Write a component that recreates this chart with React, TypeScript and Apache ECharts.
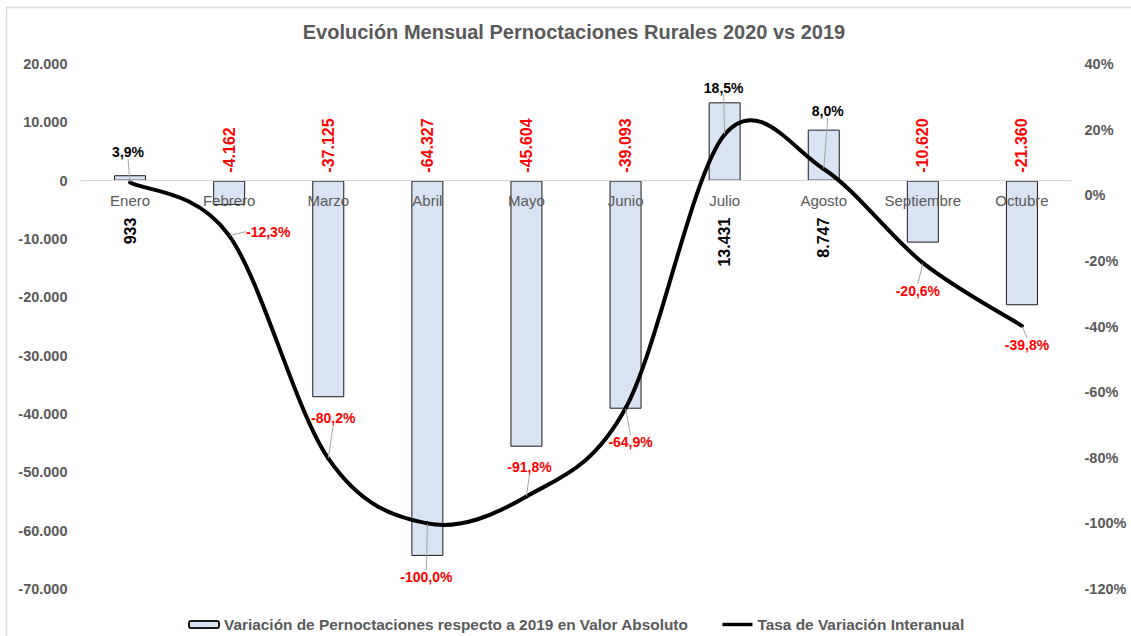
import React, { useEffect, useRef } from "react";
import * as echarts from "echarts";

const months = ["Enero", "Febrero", "Marzo", "Abril", "Mayo", "Junio", "Julio", "Agosto", "Septiembre", "Octubre"];
const absoluteVariation = [933, -4162, -37125, -64327, -45604, -39093, 13431, 8747, -10620, -21360];
const rateVariation = [3.9, -12.3, -80.2, -100.0, -91.8, -64.9, 18.5, 8.0, -20.6, -39.8];
const rateLabelOffsets = [[-2, -30], [39, -4], [5, -40], [-1, 54], [3, -29], [5, 34], [-1, -47], [4, -58], [-5, 28], [5, 19]];

const seriesBarName = "Variación de Pernoctaciones respecto a 2019 en Valor Absoluto";
const seriesLineName = "Tasa de Variación Interanual";
const titleText = "Evolución Mensual Pernoctaciones Rurales 2020 vs 2019";

const FONT = "'Liberation Sans', Arial, sans-serif";
const GREY = "#595959";

const LEFT_MIN = -70000;
const LEFT_MAX = 20000;
const GRID_TOP = 64;
const GRID_BOTTOM = 47;
const CHART_H = 636;

function fmtThousands(v: number): string {
  const s = Math.abs(Math.round(v)).toString().replace(/\B(?=(\d{3})+(?!\d))/g, ".");
  return (v < 0 ? "-" : "") + s;
}
function fmtPct(v: number): string {
  return v.toFixed(1).replace(".", ",") + "%";
}

export default function App() {
  const ref = useRef<HTMLDivElement>(null);
  useEffect(() => {
    document.body.style.margin = "0";
    if (!ref.current) return;
    const chart = echarts.init(ref.current, undefined, { renderer: "svg" });
    const n = rateVariation.length;
    const plotH = CHART_H - GRID_TOP - GRID_BOTTOM;
    // distance from the grid bottom up to the zero line of the left axis
    const zeroOffset = (plotH * (0 - LEFT_MIN)) / (LEFT_MAX - LEFT_MIN);
    chart.setOption({
      animation: false,
      backgroundColor: "#ffffff",
      textStyle: { fontFamily: FONT },
      title: {
        text: titleText,
        left: 569,
        textAlign: "center",
        top: 17,
        textStyle: { color: GREY, fontSize: 20, fontWeight: "bold", fontFamily: FONT },
      },
      graphic: [
        {
          type: "rect",
          shape: { x: 6.5, y: 7.5, width: 1200, height: 700 },
          style: { fill: "none", stroke: "#d9d9d9", lineWidth: 1.5 },
          silent: true,
          z: -1,
        },
      ],
      legend: {
        left: 183,
        top: 612,
        itemWidth: 30,
        itemHeight: 7,
        itemGap: 34,
        textStyle: { color: GREY, fontSize: 15.4, fontWeight: "bold", fontFamily: FONT },
        data: [
          { name: seriesBarName },
          { name: seriesLineName, icon: "path://M0,0H35V4H0Z", itemStyle: { color: "#000000" } },
        ],
      },
      grid: { left: 80.5, right: 59.5, top: GRID_TOP, bottom: GRID_BOTTOM, containLabel: false },
      xAxis: {
        type: "category",
        data: months,
        z: 3,
        offset: -zeroOffset,
        axisLine: { onZero: false, lineStyle: { color: "#d9d9d9", width: 1 } },
        axisTick: { show: false },
        axisLabel: { color: GREY, fontSize: 15, margin: 12, interval: 0, fontFamily: FONT },
        splitLine: { show: false },
      },
      yAxis: [
        {
          type: "value",
          min: LEFT_MIN,
          max: LEFT_MAX,
          interval: 10000,
          axisLine: { show: false },
          axisTick: { show: false },
          splitLine: { show: false },
          axisLabel: {
            color: GREY,
            fontSize: 14.5,
            fontWeight: "bold",
            margin: 13,
            fontFamily: FONT,
            formatter: (v: number) => fmtThousands(v),
          },
        },
        {
          type: "value",
          min: -120,
          max: 40,
          interval: 20,
          position: "right",
          axisLine: { show: false },
          axisTick: { show: false },
          splitLine: { show: false },
          axisLabel: {
            color: GREY,
            fontSize: 14.5,
            fontWeight: "bold",
            margin: 13,
            fontFamily: FONT,
            formatter: (v: number) => v + "%",
          },
        },
      ],
      series: [
        {
          name: seriesBarName,
          type: "bar",
          yAxisIndex: 0,
          barWidth: 32,
          z: 2,
          itemStyle: { color: "#DAE3F3", borderColor: "#1a1a1a", borderWidth: 1 },
          data: absoluteVariation.map((v) => ({
            value: v,
            label: v < 0
              ? { show: true, position: "top", distance: 8, rotate: 90, align: "left", verticalAlign: "middle", color: "#ff0000" }
              : { show: true, position: "bottom", distance: 37, rotate: 90, align: "right", verticalAlign: "middle", color: "#000000" },
          })),
          label: {
            show: true,
            fontSize: 16,
            fontWeight: "bold",
            fontFamily: FONT,
            formatter: (p: any) => fmtThousands(p.value),
          },
        },
        {
          // Excel-style smoothed line (Catmull-Rom through the data points)
          name: seriesLineName,
          type: "custom",
          coordinateSystem: "cartesian2d",
          xAxisIndex: 0,
          yAxisIndex: 1,
          z: 4,
          silent: true,
          encode: { x: 0, y: 1 },
          data: rateVariation.map((v, i) => [i, v]),
          renderItem: (params: any, api: any) => {
            const i = params.dataIndex;
            if (i >= n - 1) return { type: "group", children: [] };
            const P = (k: number) => {
              const kk = Math.max(0, Math.min(n - 1, k));
              return api.coord([kk, rateVariation[kk]]);
            };
            const p0 = P(i - 1), p1 = P(i), p2 = P(i + 1), p3 = P(i + 2);
            return {
              type: "bezierCurve",
              shape: {
                x1: p1[0], y1: p1[1],
                x2: p2[0], y2: p2[1],
                cpx1: p1[0] + (p2[0] - p0[0]) / 6,
                cpy1: p1[1] + (p2[1] - p0[1]) / 6,
                cpx2: p2[0] - (p3[0] - p1[0]) / 6,
                cpy2: p2[1] - (p3[1] - p1[1]) / 6,
              },
              style: { stroke: "#000000", lineWidth: 4, fill: "none", lineCap: "round" },
            };
          },
        },
        {
          name: seriesLineName,
          type: "line",
          yAxisIndex: 1,
          z: 5,
          symbol: "circle",
          symbolSize: 1,
          showSymbol: true,
          itemStyle: { color: "rgba(0,0,0,0)" },
          lineStyle: { color: "rgba(0,0,0,0)", width: 0 },
          data: rateVariation.map((v) => ({
            value: v,
            label: { color: v < 0 ? "#ff0000" : "#000000" },
          })),
          label: {
            show: true,
            position: "inside",
            fontSize: 14,
            fontWeight: "bold",
            fontFamily: FONT,
            formatter: (p: any) => fmtPct(p.value),
          },
          labelLine: { show: true, lineStyle: { color: "#a6a6a6", width: 1 } },
          labelLayout: (p: any) => ({
            dx: rateLabelOffsets[p.dataIndex][0],
            dy: rateLabelOffsets[p.dataIndex][1],
          }),
        },
      ],
    });
    return () => chart.dispose();
  }, []);
  return <div ref={ref} style={{ width: 1131, height: 636 }} />;
}
